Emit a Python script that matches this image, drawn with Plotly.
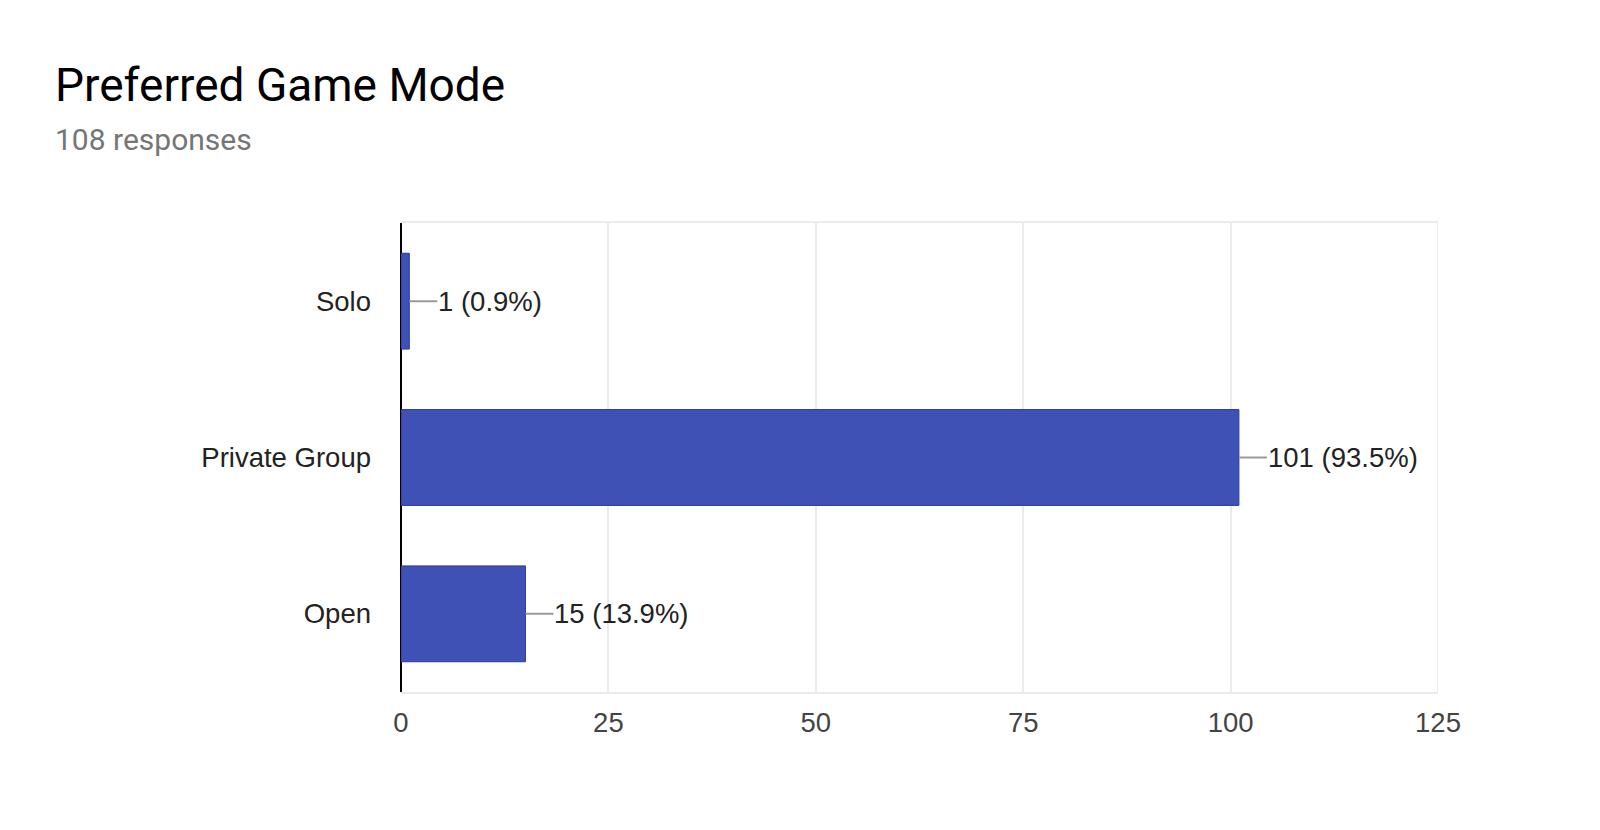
import plotly.graph_objects as go

categories = ["Solo", "Private Group", "Open"]
counts = [1, 101, 15]
labels = ["1 (0.9%)", "101 (93.5%)", "15 (13.9%)"]
x_ticks = [0, 25, 50, 75, 100, 125]
title_text = "Preferred Game Mode"
subtitle_text = "108 responses"

W, H = 1600, 830
L, R, T, B = 401, 161.5, 222.5, 138
plot_w = W - L - R
plot_h = H - T - B

def px_x(px):
    return (px - L) / plot_w

def px_y(py):
    return (H - B - py) / plot_h

fig = go.Figure()
fig.add_trace(go.Bar(
    x=counts, y=categories, orientation="h",
    marker=dict(color="#3f51b5", line=dict(color="#2639a8", width=1)),
    hoverinfo="skip",
))

for c, v, t in zip(categories, counts, labels):
    fig.add_annotation(
        x=v, y=c, xref="x", yref="y", text=t,
        showarrow=True, arrowhead=0, arrowwidth=2, arrowcolor="#9a9a9a",
        ax=28, ay=0, xanchor="left", yanchor="middle",
        font=dict(family="Liberation Sans, Arial", size=27.5, color="#222222"),
        borderpad=0,
    )

fig.add_annotation(
    x=px_x(53), y=px_y(84), xref="paper", yref="paper",
    text=title_text, showarrow=False, xanchor="left", yanchor="middle",
    font=dict(family="Roboto", size=46, color="#000000"),
)
fig.add_annotation(
    x=px_x(53), y=px_y(139), xref="paper", yref="paper",
    text=subtitle_text, showarrow=False, xanchor="left", yanchor="middle",
    font=dict(family="Roboto", size=30, color="#757575"),
)

# right border of the plot frame (gridline at the last tick)
fig.add_vline(x=x_ticks[-1], line=dict(color="#ebebeb", width=2), layer="below")

fig.update_layout(
    width=W, height=H,
    margin=dict(l=L, r=R, t=T, b=B, autoexpand=False),
    plot_bgcolor="white", paper_bgcolor="white",
    showlegend=False,
    bargap=0.387,
    xaxis=dict(
        range=[0, 125], tickvals=x_ticks, ticktext=[str(v) for v in x_ticks],
        showgrid=True, gridcolor="#ebebeb", gridwidth=2,
        zeroline=True, zerolinecolor="#000000", zerolinewidth=2,
        showline=True, mirror=True, linecolor="#ebebeb", linewidth=2,
        ticks="", ticklabelstandoff=5,
        tickfont=dict(family="Liberation Sans, Arial", size=27.5, color="#444444"),
        fixedrange=True,
    ),
    yaxis=dict(
        categoryorder="array", categoryarray=categories[::-1],
        showgrid=False, zeroline=False, showline=False,
        ticks="", ticklabelstandoff=29,
        tickfont=dict(family="Liberation Sans, Arial", size=27.5, color="#222222"),
        fixedrange=True,
    ),
)

fig.write_html("out.html", config={"displayModeBar": False},
               post_script="document.body.style.margin='0px';")
